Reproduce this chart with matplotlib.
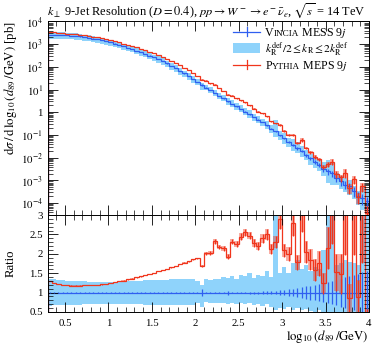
import numpy as np
import matplotlib
matplotlib.use("Agg")
import matplotlib.pyplot as plt
from matplotlib.patches import Rectangle
from matplotlib.ticker import MultipleLocator, FixedLocator, FixedFormatter, LogLocator, NullFormatter, FuncFormatter

plt.rcParams['font.family'] = ['Liberation Serif', 'DejaVu Serif']
plt.rcParams['mathtext.fontset'] = 'stix'

# ビン (log10(d89/GeV))
edges = np.round(np.arange(0.30, 4.0001, 0.05), 2)
centers = 0.5 * (edges[:-1] + edges[1:])

# Vincia MESS 9j : log10(dsigma) 読み取り値
vincia_log = [
    3.42, 3.42, 3.41, 3.40, 3.39, 3.38, 3.36, 3.34, 3.31, 3.28,
    3.25, 3.22, 3.18, 3.13, 3.08, 3.03, 2.97, 2.91, 2.85, 2.79,
    2.72, 2.65, 2.58, 2.50, 2.42, 2.34, 2.25, 2.15, 2.05, 1.94,
    1.83, 1.71, 1.59, 1.46, 1.34, 1.21, 1.09, 0.97, 0.85, 0.73,
    0.61, 0.49, 0.37, 0.26, 0.14, 0.03, -0.09, -0.20, -0.32, -0.43,
    -0.57, -0.72, -0.84, -1.01, -1.15, -1.30, -1.44, -1.59, -1.70, -1.88,
    -2.02, -2.17, -2.31, -2.50, -2.60, -2.68, -2.89, -3.04, -3.18, -3.25,
    -3.47, -3.70, -3.76, -3.90,
]
# Pythia MEPS 9j / Vincia (ratio パネルから読み取り)
ratio_py = [
    1.29, 1.25, 1.22, 1.20, 1.19, 1.18, 1.18, 1.18, 1.19, 1.19,
    1.20, 1.20, 1.21, 1.22, 1.24, 1.27, 1.29, 1.31, 1.34, 1.36,
    1.39, 1.42, 1.45, 1.48, 1.51, 1.55, 1.58, 1.61, 1.65, 1.69,
    1.74, 1.77, 1.81, 1.86, 1.88, 1.69, 2.01, 2.02, 2.32, 2.18,
    2.14, 1.93, 2.31, 2.26, 2.44, 2.55, 2.47, 2.28, 2.20, 2.40,
    2.50, 2.12, 2.30, 2.90, 2.09, 2.00, 2.80, 1.78, 3.05, 2.05,
    1.85, 1.58, 1.75, 1.24, 2.15, 3.20, 1.52, 1.48, 3.30, 0.85,
    3.40, 0.89, 3.20, 0.30,
]
# スケール変動バンド (Vincia 比)
band_up = [
    1.36, 1.35, 1.33, 1.32, 1.31, 1.30, 1.30, 1.29, 1.29, 1.28,
    1.28, 1.27, 1.27, 1.27, 1.28, 1.28, 1.29, 1.29, 1.30, 1.30,
    1.31, 1.31, 1.32, 1.32, 1.32, 1.33, 1.33, 1.33, 1.34, 1.34,
    1.34, 1.34, 1.35, 1.35, 1.30, 1.20, 1.36, 1.33, 1.35, 1.36,
    1.40, 1.37, 1.42, 1.36, 1.45, 1.43, 1.50, 1.38, 1.45, 1.42,
    1.55, 1.40, 3.20, 1.50, 1.65, 1.50, 1.75, 1.85, 1.60, 1.70,
    1.55, 1.65, 1.60, 2.10, 3.20, 3.20, 1.70, 1.75, 1.85, 1.80,
    1.75, 1.70, 3.20, 3.20,
]
band_dn = [
    0.66, 0.67, 0.67, 0.68, 0.68, 0.69, 0.69, 0.69, 0.70, 0.70,
    0.70, 0.70, 0.70, 0.70, 0.70, 0.70, 0.70, 0.70, 0.70, 0.70,
    0.70, 0.70, 0.69, 0.69, 0.69, 0.69, 0.69, 0.69, 0.68, 0.68,
    0.68, 0.68, 0.68, 0.68, 0.72, 0.62, 0.75, 0.73, 0.74, 0.72,
    0.74, 0.70, 0.72, 0.70, 0.73, 0.70, 0.72, 0.68, 0.70, 0.66,
    0.70, 0.62, 0.55, 0.60, 0.58, 0.62, 0.55, 0.60, 0.55, 0.58,
    0.52, 0.50, 0.55, 0.48, 0.30, 0.30, 0.50, 0.45, 0.48, 0.40,
    0.45, 0.40, 0.30, 0.30,
]
# 統計誤差 (相対)
vincia_err = [
    0.004, 0.004, 0.004, 0.004, 0.004, 0.004, 0.004, 0.004, 0.004, 0.004,
    0.004, 0.004, 0.004, 0.004, 0.004, 0.004, 0.004, 0.004, 0.004, 0.004,
    0.005, 0.005, 0.005, 0.005, 0.005, 0.005, 0.005, 0.005, 0.005, 0.005,
    0.005, 0.005, 0.006, 0.006, 0.008, 0.08, 0.01, 0.01, 0.012, 0.012,
    0.014, 0.05, 0.016, 0.018, 0.02, 0.022, 0.024, 0.026, 0.028, 0.03,
    0.032, 0.035, 0.04, 0.06, 0.07, 0.09, 0.10, 0.12, 0.14, 0.16,
    0.18, 0.20, 0.22, 0.25, 0.28, 0.30, 0.33, 0.36, 0.39, 0.42,
    0.45, 0.48, 0.52, 0.55,
]
pythia_err = [
    0.003, 0.003, 0.003, 0.003, 0.003, 0.003, 0.003, 0.003, 0.003, 0.003,
    0.003, 0.003, 0.003, 0.003, 0.003, 0.003, 0.003, 0.003, 0.003, 0.003,
    0.004, 0.004, 0.004, 0.004, 0.004, 0.004, 0.004, 0.004, 0.004, 0.004,
    0.004, 0.005, 0.005, 0.006, 0.006, 0.02, 0.02, 0.02, 0.025, 0.025,
    0.03, 0.03, 0.03, 0.035, 0.035, 0.04, 0.04, 0.045, 0.05, 0.05,
    0.055, 0.06, 0.07, 0.09, 0.08, 0.09, 0.12, 0.11, 0.16, 0.14,
    0.15, 0.18, 0.18, 0.22, 0.25, 0.30, 0.32, 0.35, 0.40, 0.45,
    0.42, 0.50, 0.45, 0.90,
]

ytick_vals = [1e-4, 1e-3, 1e-2, 1e-1, 1, 1e1, 1e2, 1e3, 1e4]
ytick_labels = [r"$10^{-4}$", r"$10^{-3}$", r"$10^{-2}$", r"$10^{-1}$", "1",
                r"$10^{1}$", r"$10^{2}$", r"$10^{3}$", r"$10^{4}$"]

blue = "#2f5ff0"
red = "#f0351c"
band_col = "#8fd3fb"

vincia = 10 ** np.array(vincia_log)
pythia = vincia * np.array(ratio_py)
bup = np.array(band_up)
bdn = np.array(band_dn)
verr = np.array(vincia_err)
perr = np.array(pythia_err)
r_v = vincia / vincia
r_p = pythia / vincia

fig = plt.figure(figsize=(3.82, 3.45), dpi=100)
ax = fig.add_axes([0.1246, 0.3768, 0.8414, 0.5623])
rax = fig.add_axes([0.1246, 0.0957, 0.8414, 0.2811])

# メインパネル
ax.stairs(vincia * bup, edges, baseline=vincia * bdn, fill=True, color=band_col, lw=0)
ax.stairs(pythia * (1 + perr), edges, baseline=pythia * (1 - perr), fill=True, color=red, alpha=0.4, lw=0)
ax.stairs(vincia, edges, color=blue, lw=0.9)
ax.vlines(centers, vincia * (1 - verr), vincia * (1 + verr), color=blue, lw=0.9)
ax.stairs(pythia, edges, color=red, lw=0.9)
ax.vlines(centers, pythia * (1 - perr), pythia * (1 + perr), color=red, lw=0.9)

# ratio パネル
rax.stairs(bup, edges, baseline=bdn, fill=True, color=band_col, lw=0)
rax.stairs(r_p * (1 + perr), edges, baseline=r_p * (1 - perr), fill=True, color=red, alpha=0.4, lw=0)
rax.stairs(r_v, edges, color=blue, lw=0.9)
rax.vlines(centers, r_v - verr, r_v + verr, color=blue, lw=0.9)
rax.stairs(r_p, edges, color=red, lw=0.9)
rax.vlines(centers, r_p * (1 - perr), r_p * (1 + perr), color=red, lw=0.9)

fmt = FuncFormatter(lambda v, p: "%g" % v)
for a in (ax, rax):
    a.set_xlim(0.3, 4.0)
    a.xaxis.set_major_locator(MultipleLocator(0.5))
    a.xaxis.set_minor_locator(MultipleLocator(0.1))
    a.tick_params(which='both', direction='in', top=True, right=True, labelsize=7.8)
    a.tick_params(which='major', length=7, width=0.6)
    a.tick_params(which='minor', length=3.5, width=0.5)
    for s in a.spines.values():
        s.set_linewidth(0.7)

ax.set_yscale('log')
ax.set_ylim(3e-5, 1.05e4)
ax.yaxis.set_major_locator(FixedLocator(ytick_vals))
ax.yaxis.set_major_formatter(FixedFormatter(ytick_labels))
ax.yaxis.set_minor_locator(LogLocator(base=10, subs=np.arange(2, 10), numticks=30))
ax.yaxis.set_minor_formatter(NullFormatter())
ax.tick_params(labelbottom=False)

rax.set_ylim(0.5, 3.0)
rax.yaxis.set_major_locator(MultipleLocator(0.5))
rax.yaxis.set_minor_locator(MultipleLocator(0.1))
rax.yaxis.set_major_formatter(fmt)
rax.xaxis.set_major_formatter(fmt)
rax.tick_params(axis='x', pad=5)

ax.set_ylabel(r"$\mathrm{d}\sigma\,/\,\mathrm{d}\,\log_{10}(d_{89}\,/\mathrm{GeV})$ [pb]", fontsize=9.2, loc='top')
ax.yaxis.set_label_coords(-0.09, 1.0)
rax.set_ylabel("Ratio", fontsize=9.2)
rax.yaxis.set_label_coords(-0.095, 0.5)
rax.set_xlabel(r"$\log_{10}(d_{89}\,/\mathrm{GeV})$", fontsize=9.2, loc='right')
rax.xaxis.set_label_coords(1.0, -0.17)

fig.text(0.123, 1 - 15 / 345,
         r"$k_\perp$ 9-Jet Resolution ($D = 0.4$), $pp \rightarrow W^- \rightarrow e^- \bar{\nu}_e$, $\sqrt{s}$ = 14 TeV",
         fontsize=8.9, ha='left', va='baseline')

# 凡例 (small caps を手で組む)
def smallcaps(a, x, y, parts):
    prev = None
    for s, fs in parts:
        if prev is None:
            prev = a.text(x, y, s, fontsize=fs, transform=a.transAxes, ha='left', va='baseline')
        else:
            prev = a.annotate(s, xy=(1, y), xycoords=(prev, a.transAxes), fontsize=fs,
                              ha='left', va='baseline')

hx0, hx1, tx = 0.577, 0.661, 0.677
y1, y2, y3 = 0.945, 0.860, 0.775
ax.plot([hx0, hx1], [y1, y1], color=blue, lw=0.9, transform=ax.transAxes)
ax.plot([(hx0 + hx1) / 2] * 2, [y1 - 0.022, y1 + 0.022], color=blue, lw=0.9, transform=ax.transAxes)
ax.add_patch(Rectangle((hx0, y2 - 0.026), hx1 - hx0, 0.052, transform=ax.transAxes, color=band_col, lw=0))
ax.plot([hx0, hx1], [y3, y3], color=red, lw=0.9, transform=ax.transAxes)
ax.plot([(hx0 + hx1) / 2] * 2, [y3 - 0.022, y3 + 0.022], color=red, lw=0.9, transform=ax.transAxes)
smallcaps(ax, tx, y1 - 0.02, [("V", 8.6), ("INCIA", 6.6), (" MESS 9$j$", 8.6)])
ax.text(tx, y2 - 0.004, r"$k_\mathrm{R}^\mathrm{def}/2 \leq k_\mathrm{R} \leq 2k_\mathrm{R}^\mathrm{def}$",
        fontsize=8.2, transform=ax.transAxes, ha='left', va='center')
smallcaps(ax, tx, y3 - 0.02, [("P", 8.6), ("YTHIA", 6.6), (" MEPS 9$j$", 8.6)])

fig.savefig("out.png", dpi=100)
